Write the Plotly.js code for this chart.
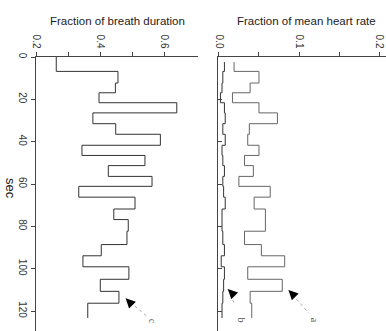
<!DOCTYPE html>
<html>
<head>
<meta charset="utf-8">
<script src="https://cdn.plot.ly/plotly-3.0.1.min.js"></script>
<style>html,body{margin:0;padding:0;background:#fff;}#chart{width:386px;height:331px;}</style>
</head>
<body>
<div id="chart"></div>
<script>
// time boundaries of each breath interval (sec)
const breathEdges = [0, 6.8, 12.3, 16.9, 21.6, 26.4, 31.5, 36.5, 41.7, 46.5, 51.3, 56.4, 61.1, 66.2, 71.8, 76.8, 82.3, 88.6, 93.9, 99.1, 105.0, 110.7, 116.3, 123.3];
const heartEdges  = [2.4, 6.8, 12.3, 16.9, 21.6, 26.4, 31.5, 36.5, 41.7, 46.5, 51.3, 56.4, 61.1, 66.2, 71.8, 76.8, 82.3, 88.6, 93.9, 99.1, 105.0, 110.7, 116.3, 123.3];
// fraction of breath duration (series c)
const breathFrac = [0.263, 0.455, 0.447, 0.396, 0.638, 0.377, 0.448, 0.587, 0.343, 0.539, 0.425, 0.561, 0.333, 0.508, 0.442, 0.487, 0.483, 0.403, 0.346, 0.489, 0.400, 0.458, 0.361];
// fraction of mean heart rate (series a and b)
const heartA = [0.019, 0.050, 0.039, 0.017, 0.050, 0.073, 0.038, 0.036, 0.050, 0.032, 0.043, 0.025, 0.064, 0.044, 0.058, 0.058, 0.032, 0.053, 0.082, 0.036, 0.079, 0.039, 0.041];
const heartB = [0.007, 0.005, 0.004, 0.002, 0.007, 0.008, 0.005, 0.008, 0.004, 0.005, 0.007, 0.005, 0.006, 0.008, 0.004, 0.004, 0.005, 0.007, 0.003, 0.007, 0.006, 0.005, 0.004];
const secTicks = [0, 20, 40, 60, 80, 100, 120];
const breathTicks = [0.2, 0.3, 0.4, 0.5, 0.6];
const breathTickText = ['0.2', '', '0.4', '', '0.6'];
const heartTicks = [0, 0.05, 0.1, 0.15, 0.2];
const heartTickText = ['0.0', '', '0.1', '', '0.2'];
const titles = ['Fraction of breath duration', 'Fraction of mean heart rate'];
const labels = ['a', 'b', 'c'];

function steps(vals, edges) {
  const x = [], y = [];
  for (let i = 0; i < vals.length; i++) {
    x.push(vals[i], vals[i]);
    y.push(edges[i], edges[i + 1]);
  }
  return {x, y};
}
const sc = steps(breathFrac, breathEdges);
const sa = steps(heartA, heartEdges);
const sb = steps(heartB, heartEdges);

const W = 386, H = 331;
const font = {family: 'Liberation Sans, Arial, sans-serif', color: '#222'};

const traces = [
  {x: sc.x, y: sc.y, xaxis: 'x', yaxis: 'y', mode: 'lines', line: {color: '#333', width: 1}, hoverinfo: 'skip'},
  {x: sa.x, y: sa.y, xaxis: 'x2', yaxis: 'y2', mode: 'lines', line: {color: '#666', width: 1}, hoverinfo: 'skip'},
  {x: sb.x, y: sb.y, xaxis: 'x2', yaxis: 'y2', mode: 'lines', line: {color: '#333', width: 1}, hoverinfo: 'skip'}
];

// annotation geometry (data coords): tip, tail, label
const arrows = [
  {lab: labels[0], xr: 'x2', tip: [0.0867, 110.1], tail: [0.112, 121.0], txt: [0.119, 124.3]},
  {lab: labels[1], xr: 'x2', tip: [0.0113, 109.6], tail: [0.020, 117.1], txt: [0.0285, 124.3]},
  {lab: labels[2], xr: 'x',  tip: [0.479, 114.0], tail: [0.547, 122.7], txt: [0.561, 124.6]}
];

const shapes = [], annotations = [];
arrows.forEach(a => {
  shapes.push({type: 'line', xref: a.xr, yref: 'y', x0: a.tip[0], y0: a.tip[1], x1: a.tail[0], y1: a.tail[1],
    line: {color: '#aaa', width: 1, dash: 'dot'}});
  annotations.push({xref: a.xr, yref: 'y', x: a.tip[0], y: a.tip[1], ax: 6, ay: 6, text: '', showarrow: true,
    arrowhead: 2, arrowsize: 1.6, arrowwidth: 1.2, arrowcolor: '#000'});
  annotations.push({xref: a.xr, yref: 'y', x: a.txt[0], y: a.txt[1], text: a.lab, showarrow: false, textangle: 90,
    xanchor: 'center', yanchor: 'middle',
    font: {family: 'Liberation Serif, serif', size: 10, color: '#555'}});
});
annotations.push({xref: 'paper', yref: 'paper', x: 117 / W, y: 1 - 21.5 / H, text: titles[0], showarrow: false,
  xanchor: 'center', yanchor: 'middle', font: Object.assign({size: 11.5}, font)});
annotations.push({xref: 'paper', yref: 'paper', x: 306 / W, y: 1 - 21.5 / H, text: titles[1], showarrow: false,
  xanchor: 'center', yanchor: 'middle', font: Object.assign({size: 11.5}, font)});
annotations.push({xref: 'paper', yref: 'paper', x: 11 / W, y: 1 - 188 / H, text: 'sec', showarrow: false, textangle: 90,
  xanchor: 'center', yanchor: 'middle', font: Object.assign({size: 13}, font)});

const yTop = 1 - 57 / H;
const secMax = (H - 57) / 2.117;

const axCommon = {showline: true, linecolor: '#444', linewidth: 1, showgrid: false, zeroline: false,
  tickcolor: '#444', ticklen: 4, ticklabeloverflow: 'allow'};

const layout = {
  width: W, height: H,
  margin: {l: 0, r: 0, t: 0, b: 0},
  paper_bgcolor: '#fff', plot_bgcolor: '#fff',
  showlegend: false,
  font: Object.assign({size: 10}, font),
  xaxis: Object.assign({}, axCommon, {domain: [36 / W, 198 / W], range: [0.2, 0.704], side: 'top', anchor: 'y',
    ticks: 'outside', tickmode: 'array', tickvals: breathTicks, ticktext: breathTickText,
    tickangle: 90, tickfont: {size: 10, color: '#333'}}),
  yaxis: Object.assign({}, axCommon, {domain: [0, yTop], range: [secMax, 0], anchor: 'x',
    ticks: 'outside', tickmode: 'array', tickvals: secTicks, tickangle: 90,
    tickfont: {size: 10, color: '#333'}}),
  xaxis2: Object.assign({}, axCommon, {domain: [218.4 / W, 1], range: [-0.0005, 0.2081], side: 'top', anchor: 'y2',
    ticks: 'outside', tickmode: 'array', tickvals: heartTicks, ticktext: heartTickText,
    tickangle: 90, tickfont: {size: 10, color: '#333'}}),
  yaxis2: Object.assign({}, axCommon, {domain: [0, yTop], range: [secMax, 0], anchor: 'x2',
    ticks: 'inside', tickmode: 'array', tickvals: secTicks, showticklabels: false}),
  shapes: shapes,
  annotations: annotations
};

Plotly.newPlot('chart', traces, layout, {staticPlot: true, displayModeBar: false});
</script>
</body>
</html>
